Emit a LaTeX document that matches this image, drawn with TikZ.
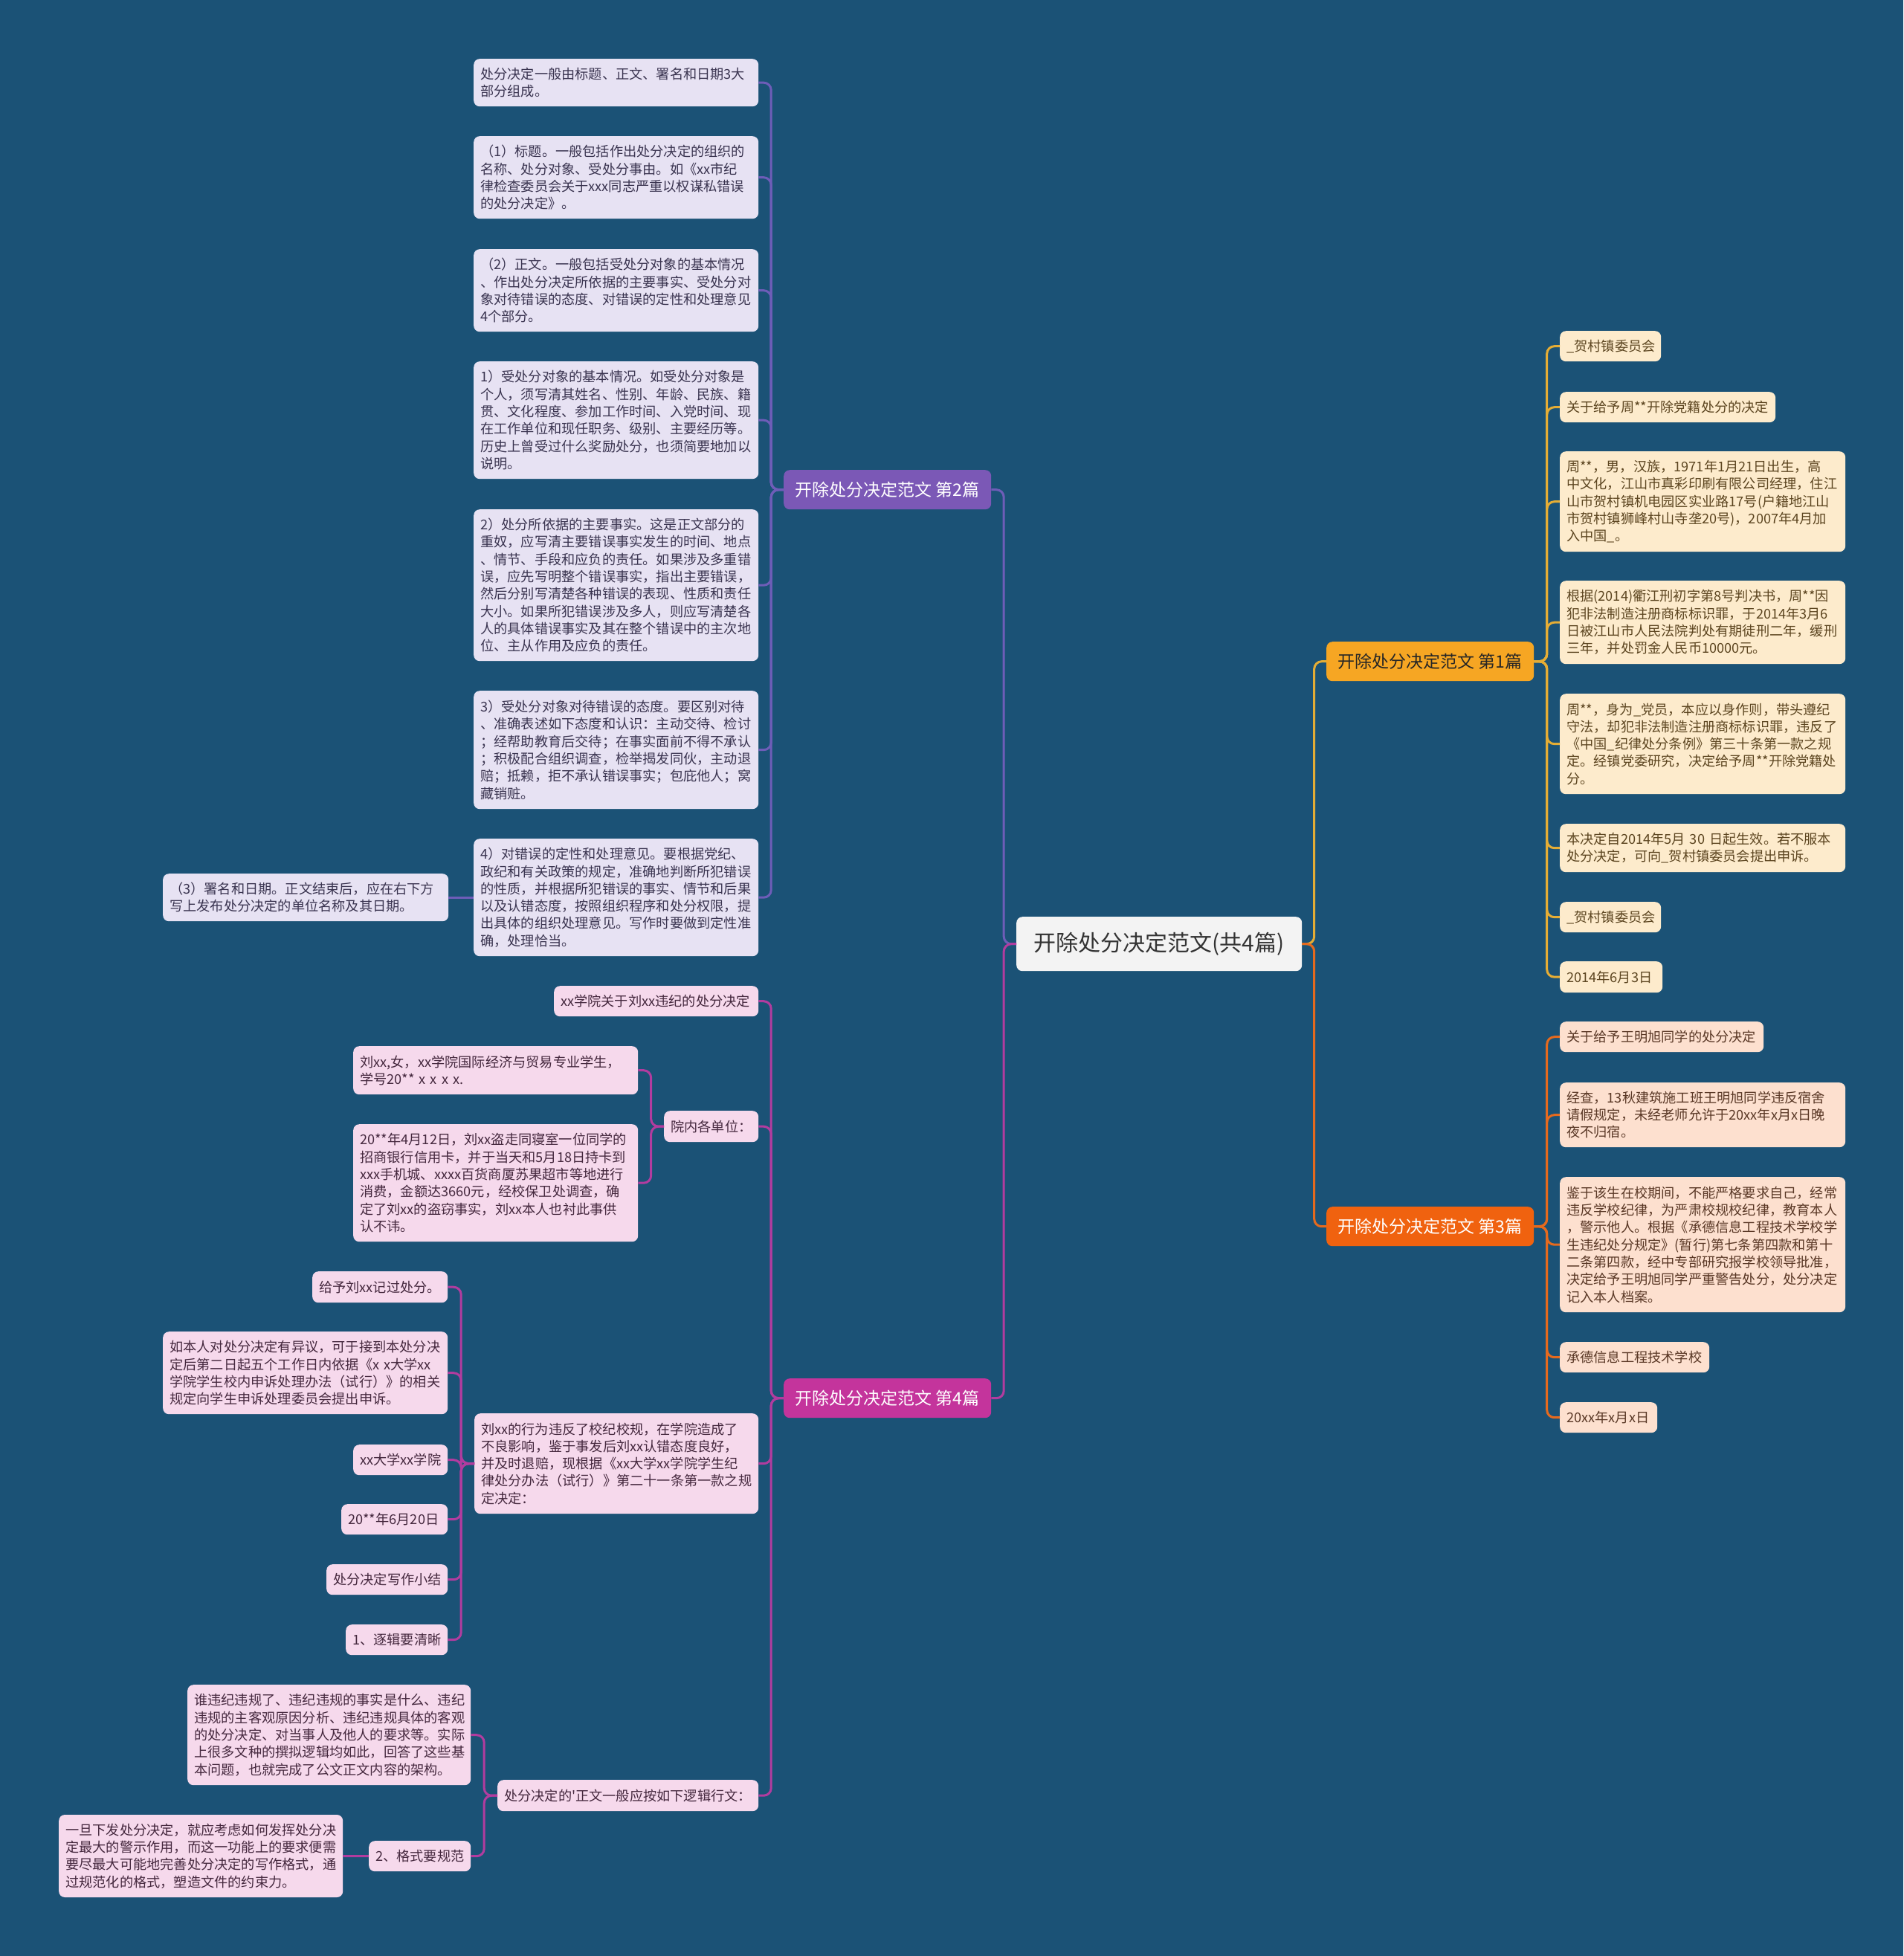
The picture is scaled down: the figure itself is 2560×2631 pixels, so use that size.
\documentclass[tikz,border=0pt]{standalone}
\usepackage{fontspec}
\newfontfamily\cjk{Noto Sans CJK SC}
\usetikzlibrary{calc}
\definecolor{bg}{HTML}{1B5276}
\definecolor{rootfill}{HTML}{F3F3F3}
\definecolor{roottext}{HTML}{333333}
\definecolor{pA}{HTML}{7B58B6}
\definecolor{pAline}{HTML}{6E5DB8}
\definecolor{pAkid}{HTML}{E7E2F3}
\definecolor{pAtxt}{HTML}{3A3450}
\definecolor{pD}{HTML}{C4349C}
\definecolor{pDline}{HTML}{B23C9F}
\definecolor{pDkid}{HTML}{F6D9EC}
\definecolor{pDtxt}{HTML}{45283E}
\definecolor{pB}{HTML}{F6A623}
\definecolor{pBline}{HTML}{E5AD35}
\definecolor{pBkid}{HTML}{FDEBCC}
\definecolor{pBtxt}{HTML}{5C4520}
\definecolor{pC}{HTML}{F0620F}
\definecolor{pCline}{HTML}{E56A1E}
\definecolor{pCkid}{HTML}{FDE0CF}
\definecolor{pCtxt}{HTML}{5A3826}
\tikzset{
  elbow/.style={to path={let \p1=(\tikztostart),\p2=(\tikztotarget) in
      -- ({(\x1+\x2)/2},\y1) -- ({(\x1+\x2)/2},\y2) -- (\tikztotarget)}},
  conn/.style={line width=3pt, rounded corners=10pt, elbow},
  straightconn/.style={line width=3pt},
  kid/.style={rectangle, rounded corners=8pt, inner xsep=9pt, inner ysep=0pt,
      align=left, anchor=north west, font=\cjk\fontsize{18.2}{23.3}\selectfont},
  kidA/.style={kid, fill=pAkid, text=pAtxt},
  kidD/.style={kid, fill=pDkid, text=pDtxt},
  kidB/.style={kid, fill=pBkid, text=pBtxt},
  kidC/.style={kid, fill=pCkid, text=pCtxt},
  branch/.style={rectangle, rounded corners=8pt, inner sep=0pt, align=center,
      anchor=north west, minimum width=279pt, minimum height=53pt,
      font=\cjk\fontsize{23}{28}\selectfont},
  rootbox/.style={rectangle, rounded corners=8pt, inner sep=0pt, align=center,
      anchor=north west, minimum width=384pt, minimum height=73pt,
      fill=rootfill, text=roottext, font=\cjk\fontsize{30}{36}\selectfont},
}
\begin{document}
\begin{tikzpicture}[x=1pt,y=-1pt]
\fill[bg] (0,0) rectangle (2560,2631);
\useasboundingbox (0,0) rectangle (2560,2631);

% root and branches
\node[rootbox] (root) at (1367,1233) {开除处分决定范文(共4篇)};
\node[branch, fill=pA, text=white] (bA) at (1054,632) {开除处分决定范文 第2篇};
\node[branch, fill=pD, text=white] (bD) at (1054,1854) {开除处分决定范文 第4篇};
\node[branch, fill=pB, text=black!85] (bB) at (1784,863) {开除处分决定范文 第1篇};
\node[branch, fill=pC, text=white] (bC) at (1784,1623) {开除处分决定范文 第3篇};

% branch 2 children
\node[kidA, text width=365pt, minimum height=64pt] (A1) at (637,79) {处分决定一般由标题、正文、署名和日期3大\\部分组成。};
\node[kidA, text width=365pt, minimum height=111pt] (A2) at (637,183) {（1）标题。一般包括作出处分决定的组织的\\名称、处分对象、受处分事由。如《xx市纪\\律检查委员会关于xxx同志严重以权谋私错误\\的处分决定》。};
\node[kidA, text width=365pt, minimum height=111pt] (A3) at (637,335) {（2）正文。一般包括受处分对象的基本情况\\、作出处分决定所依据的主要事实、受处分对\\象对待错误的态度、对错误的定性和处理意见\\4个部分。};
\node[kidA, text width=365pt, minimum height=158pt] (A4) at (637,486) {1）受处分对象的基本情况。如受处分对象是\\个人，须写清其姓名、性别、年龄、民族、籍\\贯、文化程度、参加工作时间、入党时间、现\\在工作单位和现任职务、级别、主要经历等。\\历史上曾受过什么奖励处分，也须简要地加以\\说明。};
\node[kidA, text width=365pt, minimum height=204pt] (A5) at (637,685) {2）处分所依据的主要事实。这是正文部分的\\重奴，应写清主要错误事实发生的时间、地点\\、情节、手段和应负的责任。如果涉及多重错\\误，应先写明整个错误事实，指出主要错误，\\然后分别写清楚各种错误的表现、性质和责任\\大小。如果所犯错误涉及多人，则应写清楚各\\人的具体错误事实及其在整个错误中的主次地\\位、主从作用及应负的责任。};
\node[kidA, text width=365pt, minimum height=159pt] (A6) at (637,929) {3）受处分对象对待错误的态度。要区别对待\\、准确表述如下态度和认识：主动交待、检讨\\；经帮助教育后交待；在事实面前不得不承认\\；积极配合组织调查，检举揭发同伙，主动退\\赔；抵赖，拒不承认错误事实；包庇他人；窝\\藏销赃。};
\node[kidA, text width=365pt, minimum height=158pt] (A7) at (637,1128) {4）对错误的定性和处理意见。要根据党纪、\\政纪和有关政策的规定，准确地判断所犯错误\\的性质，并根据所犯错误的事实、情节和后果\\以及认错态度，按照组织程序和处分权限，提\\出具体的组织处理意见。写作时要做到定性准\\确，处理恰当。};
\node[kidA, text width=366pt, minimum height=64pt] (A7a) at (219,1175) {（3）署名和日期。正文结束后，应在右下方\\写上发布处分决定的单位名称及其日期。};

% branch 4 children
\node[kidD, text width=257pt, minimum height=41pt] (D1) at (745,1326) {xx学院关于刘xx违纪的处分决定};
\node[kidD, text width=109pt, minimum height=42pt] (D2) at (893,1494) {院内各单位：};
\node[kidD, text width=365pt, minimum height=65pt] (D2a) at (475,1407) {刘xx,女，xx学院国际经济与贸易专业学生，\\学号20** x x x x.};
\node[kidD, text width=365pt, minimum height=158pt] (D2b) at (475,1512) {20**年4月12日，刘xx盗走同寝室一位同学的\\招商银行信用卡，并于当天和5月18日持卡到\\xxx手机城、xxxx百货商厦苏果超市等地进行\\消费，金额达3660元，经校保卫处调查，确\\定了刘xx的盗窃事实，刘xx本人也衬此事供\\认不讳。};
\node[kidD, text width=364pt, minimum height=135pt] (D3) at (638,1901) {刘xx的行为违反了校纪校规，在学院造成了\\不良影响，鉴于事发后刘xx认错态度良好，\\并及时退赔，现根据《xx大学xx学院学生纪\\律处分办法（试行）》第二十一条第一款之规\\定决定：};
\node[kidD, text width=164pt, minimum height=42pt] (D3a) at (420,1710) {给予刘xx记过处分。};
\node[kidD, text width=365pt, minimum height=111pt] (D3b) at (219,1791) {如本人对处分决定有异议，可于接到本处分决\\定后第二日起五个工作日内依据《x x大学xx\\学院学生校内申诉处理办法（试行）》的相关\\规定向学生申诉处理委员会提出申诉。};
\node[kidD, text width=109pt, minimum height=41pt] (D3c) at (475,1943) {xx大学xx学院};
\node[kidD, text width=125pt, minimum height=41pt] (D3d) at (459,2023) {20**年6月20日};
\node[kidD, text width=145pt, minimum height=41pt] (D3e) at (439,2104) {处分决定写作小结};
\node[kidD, text width=119pt, minimum height=41pt] (D3f) at (465,2185) {1、逐辑要清晰};
\node[kidD, text width=333pt, minimum height=42pt] (D4) at (669,2394) {处分决定的\symbol{39}正文一般应按如下逻辑行文：};
\node[kidD, text width=363pt, minimum height=135pt] (D4a) at (252,2266) {谁违纪违规了、违纪违规的事实是什么、违纪\\违规的主客观原因分析、违纪违规具体的客观\\的处分决定、对当事人及他人的要求等。实际\\上很多文种的撰拟逻辑均如此，回答了这些基\\本问题，也就完成了公文正文内容的架构。};
\node[kidD, text width=119pt, minimum height=41pt] (D4b) at (496,2476) {2、格式要规范};
\node[kidD, text width=364pt, minimum height=111pt, anchor=west] (D4b1) at (79,2496.5) {一旦下发处分决定，就应考虑如何发挥处分决\\定最大的警示作用，而这一功能上的要求便需\\要尽最大可能地完善处分决定的写作格式，通\\过规范化的格式，塑造文件的约束力。};

% branch 1 children
\node[kidB, text width=118pt, minimum height=41pt] (B1) at (2098,445) {\_贺村镇委员会};
\node[kidB, text width=272pt, minimum height=41pt] (B2) at (2098,527) {关于给予周**开除党籍处分的决定};
\node[kidB, text width=366pt, minimum height=135pt] (B3) at (2098,607) {周**，男，汉族，1971年1月21日出生，高\\中文化，江山市真彩印刷有限公司经理，住江\\山市贺村镇机电园区实业路17号(户籍地江山\\市贺村镇狮峰村山寺垄20号)，2007年4月加\\入中国\_。};
\node[kidB, text width=366pt, minimum height=112pt] (B4) at (2098,781) {根据(2014)衢江刑初字第8号判决书，周**因\\犯非法制造注册商标标识罪，于2014年3月6\\日被江山市人民法院判处有期徒刑二年，缓刑\\三年，并处罚金人民币10000元。};
\node[kidB, text width=366pt, minimum height=135pt] (B5) at (2098,933) {周**，身为\_党员，本应以身作则，带头遵纪\\守法，却犯非法制造注册商标标识罪，违反了\\《中国\_纪律处分条例》第三十条第一款之规\\定。经镇党委研究，决定给予周**开除党籍处\\分。};
\node[kidB, text width=366pt, minimum height=65pt] (B6) at (2098,1108) {本决定自2014年5月 30 日起生效。若不服本\\处分决定，可向\_贺村镇委员会提出申诉。};
\node[kidB, text width=118pt, minimum height=41pt] (B7) at (2098,1213) {\_贺村镇委员会};
\node[kidB, text width=120pt, minimum height=42pt] (B8) at (2098,1293) {2014年6月3日};

% branch 3 children
\node[kidC, text width=256pt, minimum height=41pt] (C1) at (2098,1374) {关于给予王明旭同学的处分决定};
\node[kidC, text width=366pt, minimum height=87pt] (C2) at (2098,1456) {经查，13秋建筑施工班王明旭同学违反宿舍\\请假规定，未经老师允许于20xx年x月x日晚\\夜不归宿。};
\node[kidC, text width=366pt, minimum height=182pt] (C3) at (2098,1583) {鉴于该生在校期间，不能严格要求自己，经常\\违反学校纪律，为严肃校规校纪律，教育本人\\，警示他人。根据《承德信息工程技术学校学\\生违纪处分规定》(暂行)第七条第四款和第十\\二条第四款，经中专部研究报学校领导批准，\\决定给予王明旭同学严重警告处分，处分决定\\记入本人档案。};
\node[kidC, text width=183pt, minimum height=41pt] (C4) at (2098,1805) {承德信息工程技术学校};
\node[kidC, text width=113pt, minimum height=41pt] (C5) at (2098,1886) {20xx年x月x日};

% connectors: root
\draw[conn, pAline] (root.west) to (bA.east);
\draw[conn, pDline] (root.west) to (bD.east);
\draw[conn, pBline] (root.east) to (bB.west);
\draw[conn, pCline] (root.east) to (bC.west);

% branch 2
\foreach \k in {A1,A2,A3,A4,A5,A6,A7} {\draw[conn, pAline] (bA.west) to (\k.east);}
\draw[straightconn, pAline] (A7.west) -- (A7a.east);

% branch 4
\foreach \k in {D1,D2,D3,D4} {\draw[conn, pDline] (bD.west) to (\k.east);}
\foreach \k in {D2a,D2b} {\draw[conn, pDline] (D2.west) to (\k.east);}
\foreach \k in {D3a,D3b,D3c,D3d,D3e,D3f} {\draw[conn, pDline] (D3.west) to (\k.east);}
\foreach \k in {D4a,D4b} {\draw[conn, pDline] (D4.west) to (\k.east);}
\draw[straightconn, pDline] (D4b.west) -- (D4b1.east);

% branch 1
\foreach \k in {B1,B2,B3,B4,B5,B6,B7,B8} {\draw[conn, pBline] (bB.east) to (\k.west);}

% branch 3
\foreach \k in {C1,C2,C3,C4,C5} {\draw[conn, pCline] (bC.east) to (\k.west);}
\end{tikzpicture}
\end{document}
